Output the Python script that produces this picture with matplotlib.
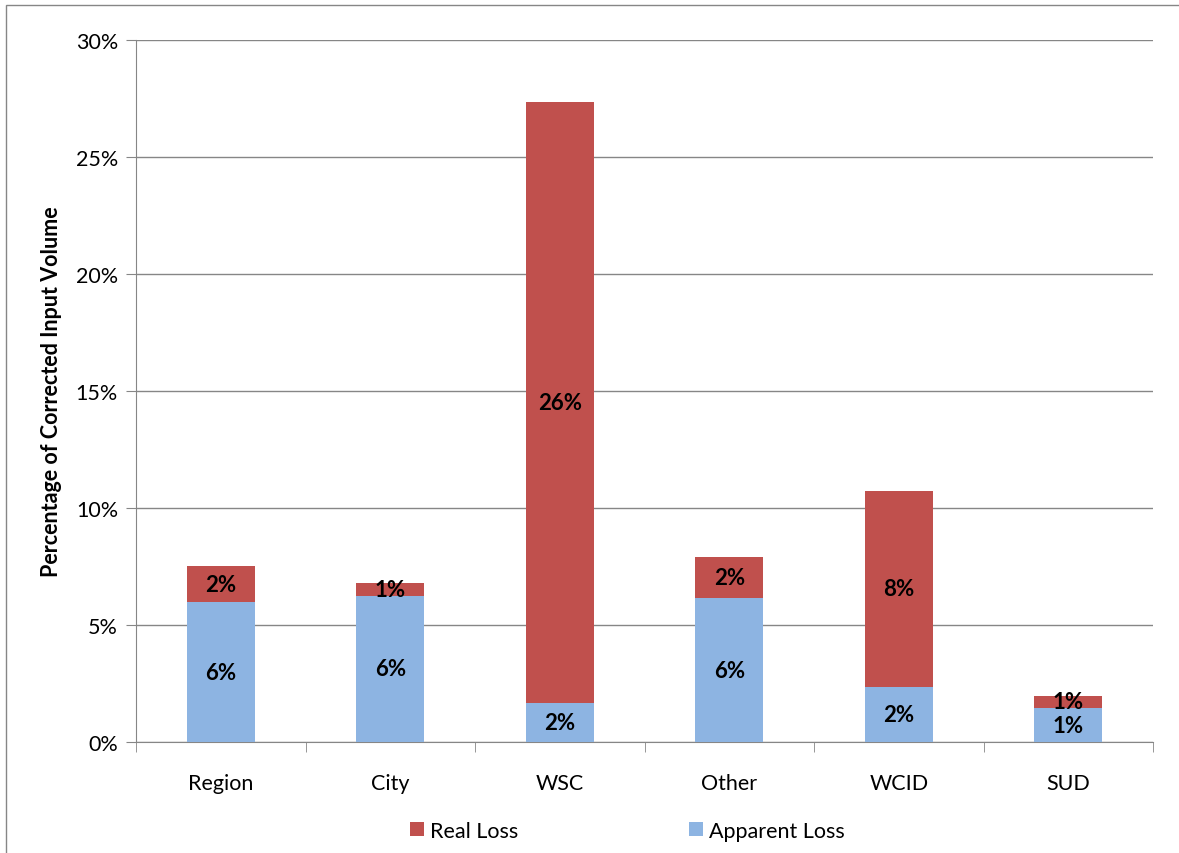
import matplotlib.pyplot as plt
import numpy as np
from matplotlib.patches import Rectangle

# --- Data ---
categories = ["Region", "City", "WSC", "Other", "WCID", "SUD"]
apparent_loss = [5.98, 6.24, 1.65, 6.15, 2.35, 1.45]
real_loss = [1.54, 0.55, 25.70, 1.76, 8.38, 0.52]
apparent_labels = ["6%", "6%", "2%", "6%", "2%", "1%"]
real_labels = ["2%", "1%", "26%", "2%", "8%", "1%"]

RED = "#C0504D"
BLUE = "#8DB4E2"
GRID = "#868686"

plt.rcParams["font.family"] = ["Lato", "DejaVu Sans"]

fig = plt.figure(figsize=(11.79, 8.54), dpi=100)
ax = fig.add_axes([0.1154, 0.13, 0.978 - 0.1154, 0.952 - 0.13])

x = np.arange(len(categories))
w = 0.4
b1 = ax.bar(x, apparent_loss, w, color=BLUE, label="Apparent Loss", zorder=3)
b2 = ax.bar(x, real_loss, w, bottom=apparent_loss, color=RED, label="Real Loss", zorder=3)

# labels centered in each segment
for i in range(len(categories)):
    ax.text(x[i], apparent_loss[i] / 2, apparent_labels[i], ha="center", va="center",
            fontsize=16, fontweight="bold", zorder=4)
    ax.text(x[i], apparent_loss[i] + real_loss[i] / 2, real_labels[i], ha="center",
            va="center", fontsize=16, fontweight="bold", zorder=4)

ax.set_xlim(-0.5, len(categories) - 0.5)
ax.set_ylim(0, 30)
ax.set_yticks(range(0, 31, 5))
ax.set_yticklabels([f"{v}%" for v in range(0, 31, 5)], fontsize=15.5)
ax.set_xticks(x)
ax.set_xticklabels(categories, fontsize=15.5)
ax.set_xticks(np.arange(-0.5, len(categories), 1), minor=True)
ax.tick_params(axis="x", which="major", length=0, pad=22)
ax.tick_params(axis="x", which="minor", length=7, color=GRID, direction="out")
ax.tick_params(axis="y", length=7, color=GRID, pad=6)

ax.yaxis.grid(True, color=GRID, linewidth=1, zorder=0)
for s in ["top", "right"]:
    ax.spines[s].set_visible(False)
ax.spines["left"].set_color(GRID)
ax.spines["bottom"].set_color(GRID)

ax.set_ylabel("Percentage of Corrected Input Volume", fontsize=15.5, fontweight="bold", labelpad=10)

handles = [b2, b1]
leg = fig.legend(handles, ["Real Loss", "Apparent Loss"], loc="center",
                 bbox_to_anchor=(0.532, 0.026), ncol=2, frameon=False, fontsize=15.5,
                 handlelength=0.65, handleheight=0.65, handletextpad=0.3, columnspacing=7.9)

# outer border
fig.patches.append(Rectangle((0.005, -0.01), 1.2, 1.003, transform=fig.transFigure,
                             fill=False, edgecolor=GRID, linewidth=1))

fig.savefig("out.png", dpi=100)
